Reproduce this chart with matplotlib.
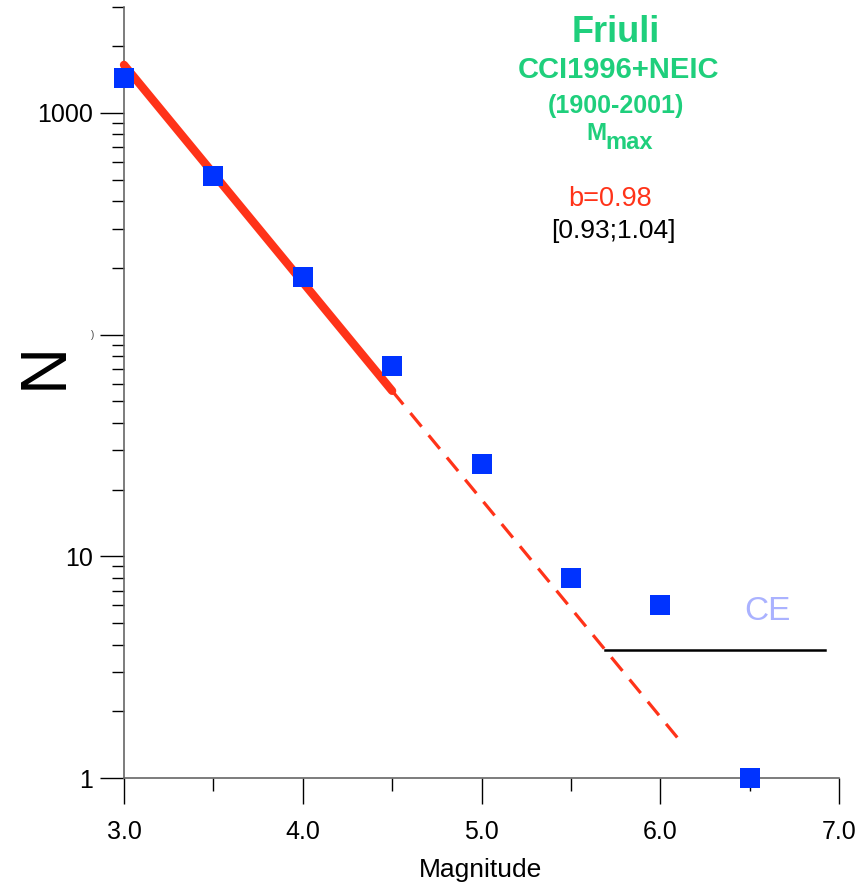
import matplotlib
matplotlib.use('Agg')
import matplotlib.pyplot as plt
import numpy as np
from matplotlib.ticker import FixedLocator, FixedFormatter, NullFormatter

# ---- data ----
magnitude = [3.0, 3.5, 4.0, 4.5, 5.0, 5.5, 6.0, 6.5]
counts = [1437, 519, 182, 72, 26, 8, 6, 1]
b_value = 0.98
a_value = 6.156
fit_solid_range = [3.0, 4.5]
fit_dashed_range = [4.5, 6.1]
ce_level = 3.78
ce_range = [5.69, 6.92]
x_ticks = [3.0, 4.0, 5.0, 6.0, 7.0]
x_tick_labels = ['3.0', '4.0', '5.0', '6.0', '7.0']
x_minor_ticks = [3.5, 4.5, 5.5, 6.5]
y_ticks = [1, 10, 100, 1000]
y_tick_labels = ['1', '10', '', '1000']
y_minor_ticks = [m * 10 ** k for k in range(3) for m in range(2, 10)] + [2000, 3000]

plt.rcParams['font.family'] = ['Liberation Sans', 'DejaVu Sans']

W, H = 863, 886
fig = plt.figure(figsize=(W / 100, H / 100), dpi=100)


def px(x, y):
    return x / W, 1 - y / H


ax = fig.add_axes([124 / W, 1 - 778 / H, (839 - 124) / W, (778 - 7) / H])
ax.set_yscale('log')
ax.set_xlim(3.0, 7.0)
ax.set_ylim(1, 3000)

RED = '#ff3319'
BLUE = '#0033ff'
GREEN = '#1fcf7c'

# fit line
xs = np.array(fit_solid_range)
ax.plot(xs, 10 ** (a_value - b_value * xs), color=RED, lw=6, solid_capstyle='round', zorder=3, clip_on=False)
xd = np.array(fit_dashed_range)
ax.plot(xd, 10 ** (a_value - b_value * xd), color=RED, lw=2.3, dashes=(5.5, 3.5), zorder=3)

# CE line
ax.plot(ce_range, [ce_level, ce_level], color='black', lw=1.8, zorder=3)
ax.text(6.6, 5.16, 'CE', color='#aab2ff', fontsize=24, ha='center', va='baseline')

# data
ax.plot(magnitude, counts, 's', color=BLUE, markersize=14.5, zorder=4, clip_on=False, markeredgewidth=0)

# axes styling
for s in ['top', 'right']:
    ax.spines[s].set_visible(False)
for s in ['left', 'bottom']:
    ax.spines[s].set_color('#666666')
    ax.spines[s].set_linewidth(1.2)

ax.xaxis.set_major_locator(FixedLocator(x_ticks))
ax.xaxis.set_major_formatter(FixedFormatter(x_tick_labels))
ax.xaxis.set_minor_locator(FixedLocator(x_minor_ticks))
ax.xaxis.set_minor_formatter(NullFormatter())
ax.yaxis.set_major_locator(FixedLocator(y_ticks))
ax.yaxis.set_major_formatter(FixedFormatter(y_tick_labels))
ax.yaxis.set_minor_locator(FixedLocator(y_minor_ticks))
ax.yaxis.set_minor_formatter(NullFormatter())

ax.tick_params(axis='x', which='major', direction='out', length=19, width=1, pad=11, labelsize=18)
ax.tick_params(axis='x', which='minor', direction='out', length=9.5, width=1)
ax.tick_params(axis='y', which='major', direction='out', length=17, width=1, pad=5, labelsize=18)
ax.tick_params(axis='y', which='minor', direction='out', length=8.5, width=1)

# axis labels
fig.text(*px(480, 877), 'Magnitude', fontsize=19, ha='center', va='baseline')
fig.text(*px(45, 365), 'N', fontsize=47, rotation=90, ha='center', va='center')
fig.text(*px(93, 335), ')', fontsize=7, ha='center', va='center', color='#444444')

# annotations
fig.text(*px(616, 42), 'Friuli', fontsize=26, fontweight='bold', color=GREEN, ha='center', va='baseline')
fig.text(*px(618, 78), 'CCI1996+NEIC', fontsize=21, fontweight='bold', color=GREEN, ha='center', va='baseline')
fig.text(*px(616, 113), '(1900-2001)', fontsize=18, fontweight='bold', color=GREEN, ha='center', va='baseline')
fig.text(*px(606, 140), 'M', fontsize=17.5, fontweight='bold', color=GREEN, ha='right', va='baseline')
fig.text(*px(605, 149), 'max', fontsize=17, fontweight='bold', color=GREEN, ha='left', va='baseline')
fig.text(*px(610, 206), 'b=0.98', fontsize=19.5, color=RED, ha='center', va='baseline')
fig.text(*px(613, 238), '[0.93;1.04]', fontsize=19, color='black', ha='center', va='baseline')

fig.savefig('out.png', dpi=100)
